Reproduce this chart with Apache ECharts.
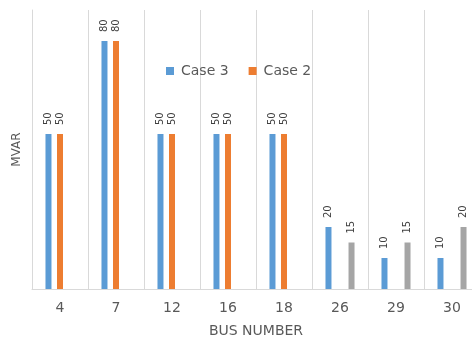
<!DOCTYPE html>
<html>
<head>
<meta charset="utf-8">
<script src="https://cdn.jsdelivr.net/npm/echarts@6/dist/echarts.min.js"></script>
<style>
  html, body { margin: 0; padding: 0; background: #ffffff; }
  #chart { width: 472px; height: 338px; }
</style>
</head>
<body>
<div id="chart"></div>
<script>
// Reactive power per bus
const busNumbers = ['4', '7', '12', '16', '18', '26', '29', '30'];
const case3 = [50, 80, 50, 50, 50, 20, 10, 10];
const case2 = [50, 80, 50, 50, 50, null, null, null];
const case2Other = [null, null, null, null, null, 15, 15, 20];

const FONT = 'DejaVu Sans';
const TEXT = '#595959';

const label = {
  show: true,
  position: 'top',
  distance: 9,
  rotate: 90,
  align: 'left',
  verticalAlign: 'middle',
  fontFamily: FONT,
  fontSize: 10,
  color: '#404040'
};

function barSeries(name, data, color) {
  return {
    name: name,
    type: 'bar',
    data: data,
    barWidth: 6,
    barGap: '92%',
    barCategoryGap: '48%',
    itemStyle: { color: color },
    label: label
  };
}

const chart = echarts.init(document.getElementById('chart'), null, { renderer: 'canvas' });
chart.setOption({
  animation: false,
  backgroundColor: '#ffffff',
  textStyle: { fontFamily: FONT },
  legend: {
    data: ['Case 3', 'Case 2'],
    left: 161,
    top: 59,
    icon: 'rect',
    itemWidth: 8,
    itemHeight: 8,
    itemGap: 20,
    textStyle: { fontFamily: FONT, fontSize: 14, color: TEXT, padding: [0, 0, 0, 2] }
  },
  // the plot runs past the right edge of the canvas
  grid: { left: 32, top: 10, width: 448, height: 279, containLabel: false, outerBoundsMode: 'none' },
  xAxis: {
    type: 'category',
    data: busNumbers,
    name: 'BUS NUMBER',
    nameLocation: 'middle',
    nameGap: 35,
    nameTextStyle: { fontFamily: FONT, fontSize: 14, color: TEXT },
    axisLine: { show: true, lineStyle: { color: '#d9d9d9', width: 1 } },
    axisTick: { show: false },
    axisLabel: { margin: 12, fontFamily: FONT, fontSize: 14, color: TEXT },
    splitLine: { show: true, lineStyle: { color: '#d9d9d9', width: 1 } }
  },
  yAxis: {
    type: 'value',
    min: 0,
    max: 90,
    name: 'MVAR',
    nameLocation: 'middle',
    nameGap: 9,
    nameTextStyle: { fontFamily: FONT, fontSize: 12, color: TEXT },
    axisLine: { show: true, lineStyle: { color: '#d9d9d9', width: 1 } },
    axisTick: { show: false },
    axisLabel: { show: false },
    splitLine: { show: false }
  },
  series: [
    barSeries('Case 3', case3, '#5B9BD5'),
    barSeries('Case 2', case2, '#ED7D31'),
    barSeries('Case 2 ', case2Other, '#A5A5A5')
  ]
});
</script>
</body>
</html>
